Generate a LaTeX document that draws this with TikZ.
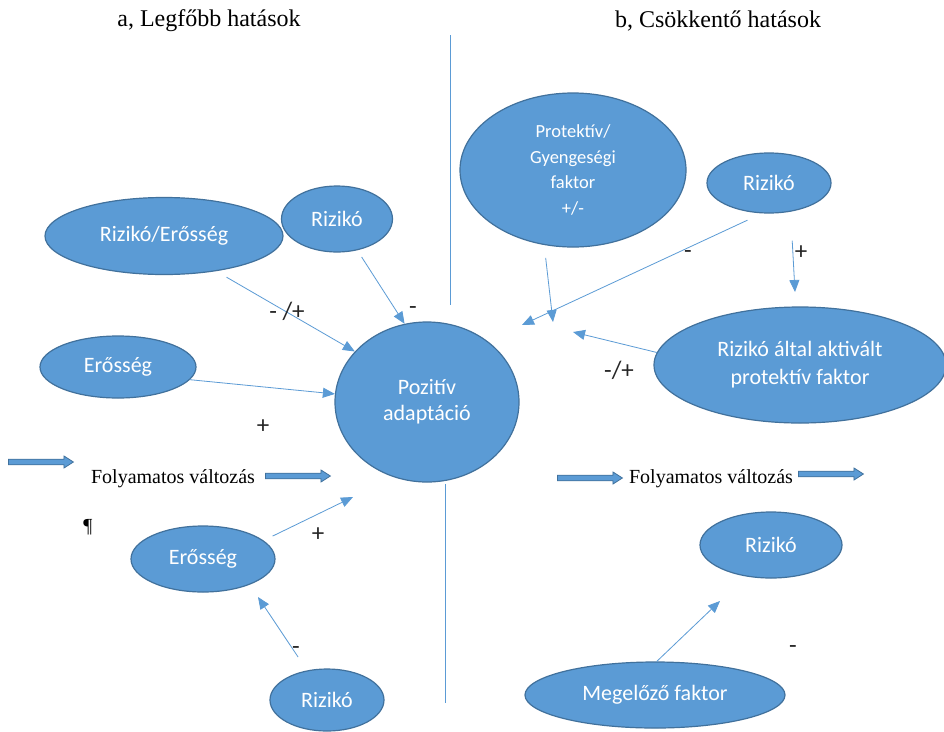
\documentclass[tikz,border=0pt]{standalone}
\usepackage{fontspec}
\setmainfont{Liberation Serif}
\newfontfamily\calfont{Carlito}
\usetikzlibrary{shapes.geometric,shapes.arrows,arrows.meta}
\definecolor{fillb}{HTML}{5B9BD5}
\definecolor{edgeb}{HTML}{41719C}
\definecolor{lineb}{HTML}{5B9BD5}
\begin{document}
\begin{tikzpicture}[x=1pt,y=-1pt,
  ell/.style={ellipse, draw=edgeb, line width=1.2pt, fill=fillb, inner sep=0pt,
    text=white, font=\calfont\fontsize{22}{28}\selectfont, align=center},
  smallell/.style={font=\calfont\fontsize{18.5}{25}\selectfont},
  conn/.style={draw=lineb, line width=0.8pt, -{Triangle[length=12pt,width=10pt]}},
  sepline/.style={draw=lineb, line width=0.8pt},
  lbl/.style={font=\calfont\fontsize{25}{26}\selectfont, text=black!85},
  fat/.style={single arrow, draw=edgeb, fill=fillb, line width=0.8pt,
    minimum height=65pt, minimum width=12pt, inner sep=2.2pt,
    single arrow head extend=3pt, single arrow tip angle=65, anchor=west},
  serif/.style={font=\fontsize{20}{22}\selectfont, text=black},
  title/.style={font=\fontsize{24}{26}\selectfont, text=black}]
\fill[white] (0,0) rectangle (944,731);
\useasboundingbox (0,0) rectangle (944,731);

% titles
\node[title] (ta) at (209,21) {a, Legfőbb hatások};
\node[title] (tb) at (718,21) {b, Csökkentő hatások};

% separator lines
\coordinate (vt1) at (450,35);
\coordinate (vt2) at (450,305);
\coordinate (vb1) at (445,484);
\coordinate (vb2) at (445,703);
\draw[sepline] (vt1) -- (vt2);
\draw[sepline] (vb1) -- (vb2);

% ellipses
\node[ell, minimum width=238pt, minimum height=77pt] (re) at (164,236) {Rizikó/Erősség};
\node[ell, minimum width=111pt, minimum height=66pt] (r1) at (337,219) {Rizikó};
\node[ell, minimum width=156pt, minimum height=62pt] (e1) at (118,367) {Erősség};
\node[ell, minimum width=184pt, minimum height=160pt] (pa) at (427,402) {\raisebox{-2pt}{Pozitív}\\adaptáció};
\node[ell, minimum width=144pt, minimum height=66pt] (e2) at (203,559) {Erősség};
\node[ell, minimum width=114pt, minimum height=62pt] (r2) at (327,700) {Rizikó};
\node[ell, smallell, minimum width=226pt, minimum height=154pt] (pf) at (573,170) {\raisebox{-4pt}{Protektív/}\\[0.5pt]\raisebox{-4pt}{Gyengeségi}\\[0.5pt]\raisebox{-4pt}{faktor}\\[0.5pt]\raisebox{-4pt}{+/-}};
\node[ell, minimum width=124pt, minimum height=60pt] (r3) at (769,183) {Rizikó};
\node[ell, minimum width=292pt, minimum height=116pt] (ra) at (800,365) {Rizikó által aktivált\\protektív faktor};
\node[ell, minimum width=142pt, minimum height=66pt] (r4) at (771,545) {Rizikó};
\node[ell, minimum width=260pt, minimum height=66pt] (mf) at (655,695) {Megelőző faktor};

% free ends
\coordinate (e2t) at (353,497);
\coordinate (r2t) at (258,597);
\coordinate (pft) at (553,322);
\coordinate (r3ta) at (522,325);
\coordinate (r3tb) at (795,292);
\coordinate (rat) at (573,332);
\coordinate (mft) at (720,601);

% connectors
\draw[conn, shorten <=12pt] (re.-34) -- (pa.145);
\draw[conn, shorten <=8pt] (r1.-57) -- (pa.106);
\draw[conn] (e1.-10) -- (pa.175);
\draw[conn, shorten <=10pt] (e2.17) -- (e2t);
\draw[conn, shorten <=16pt] (r2.124) -- (r2t);
\draw[conn, shorten <=13pt] (pf.-111) -- (pft);
\draw[conn, shorten <=16pt] (r3.-103) -- (r3ta);
\draw[conn, shorten <=29pt] (r3.-53) -- (r3tb);
\draw[conn] (ra.175) -- (rat);
\draw[conn] (mf.87) -- (mft);

% labels
\node[lbl] (l1) at (287,311) {- /+};
\node[lbl] (l2) at (413,311) {-};
\node[lbl] (l3) at (263,427) {+};
\node[lbl] (l4) at (318,535) {+};
\node[lbl] (l5) at (296,651) {-};
\node[lbl] (l6) at (688,255) {-};
\node[lbl] (l7) at (801,253) {+};
\node[lbl] (l8) at (619,370) {-/+};
\node[lbl] (l9) at (793,650) {-};

% continuous change
\node[fat] (fa1) at (8,462) {};
\node[fat] (fa2) at (265,476) {};
\node[fat] (fa3) at (557,478) {};
\node[fat] (fa4) at (798,474) {};
\node[serif] (fv1) at (173,479) {Folyamatos változás};
\node[serif] (fv2) at (711,479) {Folyamatos változás};
\node[serif] (pil) at (88,527) {¶};
\end{tikzpicture}
\end{document}
